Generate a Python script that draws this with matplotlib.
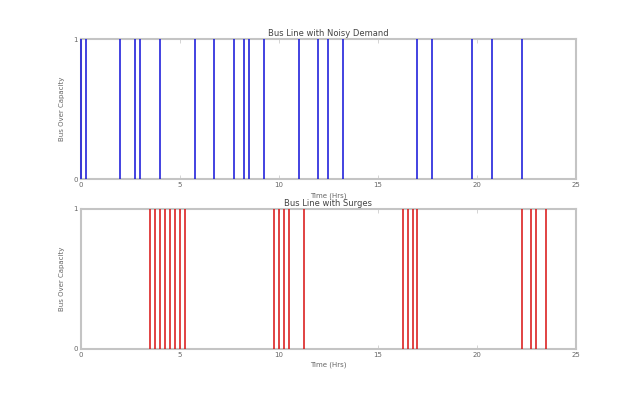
import matplotlib
matplotlib.use("Agg")
import matplotlib.pyplot as plt

# times (hours) where the bus is over capacity
noisy_times = [0, 0.25, 2, 2.75, 3, 4, 5.75, 6.75, 7.75, 8.25, 8.5, 9.25,
               11, 12, 12.5, 13.25, 17, 17.75, 19.75, 20.75, 22.25]
surge_times = [3.5, 3.75, 4, 4.25, 4.5, 4.75, 5, 5.25,
               9.75, 10, 10.25, 10.5, 11.25,
               16.25, 16.5, 16.75, 17,
               22.25, 22.75, 23, 23.5]

titles = ["Bus Line with Noisy Demand", "Bus Line with Surges"]
colors = ["#1010d8", "#d81010"]
x_ticks = [0, 5, 10, 15, 20, 25]

text_col = "#666666"
spine_col = "#c4c4c4"

fig = plt.figure(figsize=(6.4, 4), dpi=100)
fig.subplots_adjust(left=0.126, right=0.9, bottom=0.128, top=0.902, hspace=0.21)

for i, times in enumerate([noisy_times, surge_times]):
    ax = fig.add_subplot(2, 1, i + 1)
    ax.vlines(times, 0, 1, colors=colors[i], linewidth=1.1, zorder=3, clip_on=False)
    ax.set_xlim(0, 25)
    ax.set_ylim(0, 1)
    ax.set_xticks(x_ticks)
    ax.set_yticks([0, 1])
    ax.set_title(titles[i], fontsize=6, color="#444444", pad=2)
    ax.set_xlabel("Time (Hrs)", fontsize=5, color=text_col, labelpad=3)
    ax.set_ylabel("Bus Over Capacity", fontsize=5, color=text_col, labelpad=6)
    ax.tick_params(direction="in", length=3, width=0.5, colors=spine_col,
                   labelcolor=text_col, labelsize=5, pad=2, top=True, right=True)
    for s in ax.spines.values():
        s.set_color(spine_col)
        s.set_linewidth(1.5)

fig.savefig("out.png", dpi=100)
